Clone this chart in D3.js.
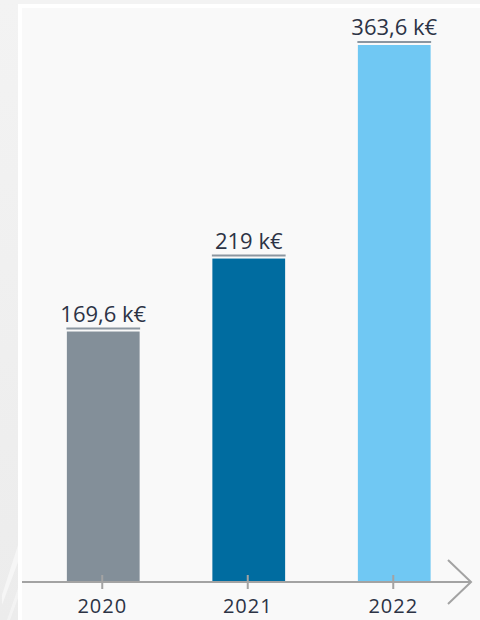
<!DOCTYPE html>
<html>
<head>
<meta charset="utf-8">
<script src="https://cdn.jsdelivr.net/npm/d3@7"></script>
<style>
  html, body { margin: 0; padding: 0; background: #f1f1f1; }
  svg { display: block; }
</style>
</head>
<body>
<div id="chart"></div>
<script>
var years = ["2020", "2021", "2022"];
var values = [169.6, 219, 363.6];
var valueLabels = ["169,6 k€", "219 k€", "363,6 k€"];
var barColors = ["#838f99", "#006ca0", "#70c8f3"];

var W = 480, H = 620;
var svg = d3.select("#chart").append("svg")
  .attr("width", W)
  .attr("height", H);

// backdrop: grey page, white frame, pale panel
var defs = svg.append("defs");
var grad = defs.append("linearGradient").attr("id", "side")
  .attr("x1", 0).attr("y1", 0).attr("x2", 0).attr("y2", 1);
grad.append("stop").attr("offset", "0%").attr("stop-color", "#f3f3f3");
grad.append("stop").attr("offset", "100%").attr("stop-color", "#ececec");
svg.append("rect").attr("width", W).attr("height", H).attr("fill", "url(#side)");

// faint streaks bottom-left
svg.append("path")
  .attr("d", "M18,545 L2,595 L2,605 L18,562 Z")
  .attr("fill", "#ffffff").attr("opacity", 0.5);
svg.append("path")
  .attr("d", "M18,588 L7,620 L10,620 L18,598 Z")
  .attr("fill", "#ffffff").attr("opacity", 0.4);

svg.append("rect").attr("x", 18).attr("y", 4).attr("width", W - 18).attr("height", H - 4).attr("fill", "#ffffff");
svg.append("rect").attr("x", 22).attr("y", 8).attr("width", W - 22).attr("height", H - 8).attr("fill", "#f9f9f9");

var axisY = 582;

var x = d3.scaleBand()
  .domain(years)
  .range([30.5, 467])
  .paddingInner(0.5)
  .paddingOuter(0.25);

var y = d3.scaleLinear()
  .domain([0, 363.6])
  .range([axisY, 45]);

var g = svg.append("g");

// bars
g.selectAll("rect.bar")
  .data(years)
  .enter().append("rect")
  .attr("class", "bar")
  .attr("x", function(d) { return x(d); })
  .attr("y", function(d, i) { return y(values[i]); })
  .attr("width", x.bandwidth())
  .attr("height", function(d, i) { return axisY - y(values[i]); })
  .attr("fill", function(d, i) { return barColors[i]; });

// underline above each bar
g.selectAll("line.cap")
  .data(years)
  .enter().append("line")
  .attr("class", "cap")
  .attr("x1", function(d) { return x(d) - 0.5; })
  .attr("x2", function(d) { return x(d) + x.bandwidth() + 0.5; })
  .attr("y1", function(d, i) { return y(values[i]) - 3; })
  .attr("y2", function(d, i) { return y(values[i]) - 3; })
  .attr("stroke", "#8b96a0")
  .attr("stroke-width", 2);

// value labels
g.selectAll("text.val")
  .data(years)
  .enter().append("text")
  .attr("class", "val")
  .attr("x", function(d) { return x(d) + x.bandwidth() / 2; })
  .attr("y", function(d, i) { return y(values[i]) - 10; })
  .attr("text-anchor", "middle")
  .attr("font-family", "'Open Sans', sans-serif")
  .attr("font-size", 22)
  .attr("fill", "#2c3345")
  .text(function(d, i) { return valueLabels[i]; });

// axis with arrow
g.append("line")
  .attr("x1", 22).attr("x2", 471)
  .attr("y1", axisY).attr("y2", axisY)
  .attr("stroke", "#a3a3a3")
  .attr("stroke-width", 2);

g.append("path")
  .attr("d", "M448,560 L471,582 L448,604")
  .attr("fill", "none")
  .attr("stroke", "#a3a3a3")
  .attr("stroke-width", 2);

g.selectAll("line.tick")
  .data(years)
  .enter().append("line")
  .attr("class", "tick")
  .attr("x1", function(d) { return x(d) + x.bandwidth() / 2 - 1; })
  .attr("x2", function(d) { return x(d) + x.bandwidth() / 2 - 1; })
  .attr("y1", axisY - 7).attr("y2", axisY + 7)
  .attr("stroke", "#a3a3a3")
  .attr("stroke-width", 2);

g.selectAll("text.year")
  .data(years)
  .enter().append("text")
  .attr("class", "year")
  .attr("x", function(d) { return x(d) + x.bandwidth() / 2 - 1; })
  .attr("y", 613)
  .attr("text-anchor", "middle")
  .attr("font-family", "'Open Sans', sans-serif")
  .attr("font-size", 20)
  .attr("letter-spacing", 1)
  .attr("fill", "#2c3345")
  .text(function(d) { return d; });
</script>
</body>
</html>
